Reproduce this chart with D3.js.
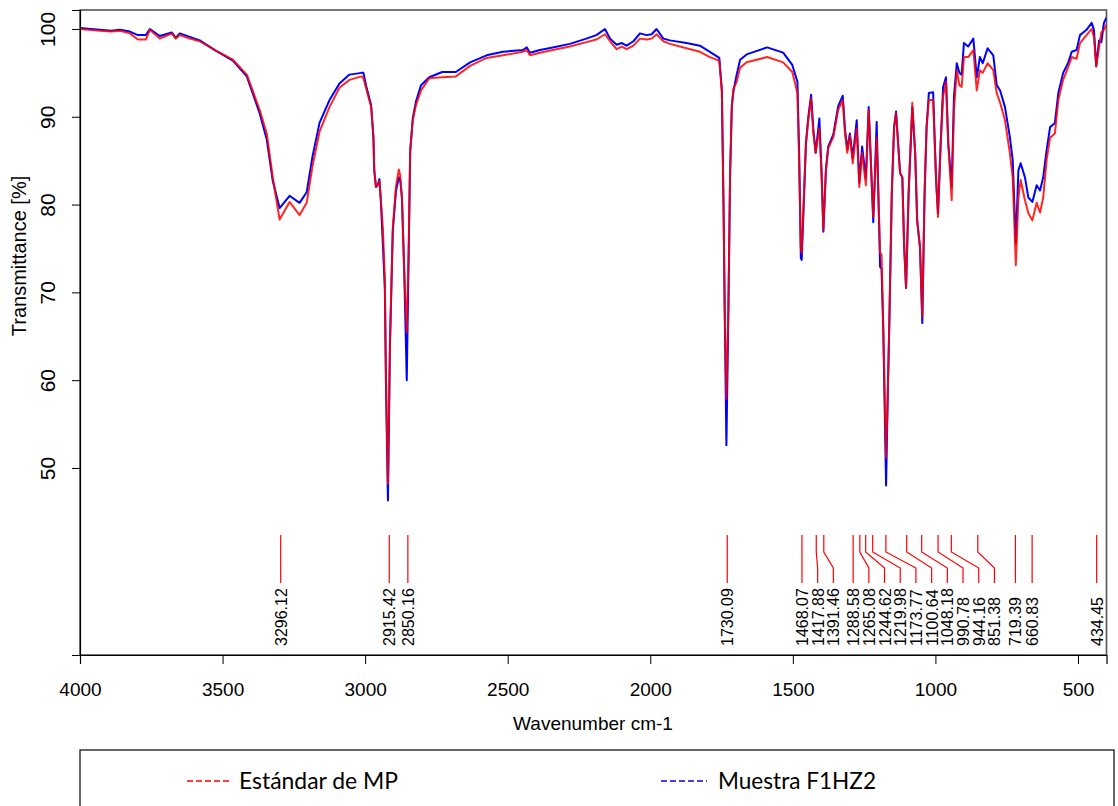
<!DOCTYPE html>
<html><head><meta charset="utf-8">
<script src="https://cdn.jsdelivr.net/npm/d3@7"></script>
<style>body{margin:0;background:#fff} svg{display:block}</style>
</head><body>
<svg id="c" width="1118" height="806"></svg>
<script>
const wavenumbers = [4000,3930,3891,3860,3825,3797,3769,3755,3720,3699,3678,3664,3650,3615,3580,3527,3464,3415,3370,3345,3324,3300,3265,3230,3205,3185,3160,3125,3090,3055,3013,3006,2997,2979,2971,2968,2962,2955,2950,2945,2938,2931,2927,2920,2913,2903,2892,2882,2877,2871,2863,2854,2847,2842,2833,2822,2804,2775,2730,2682,2632,2574,2517,2447,2433,2422,2387,2342,2282,2224,2189,2159,2141,2118,2100,2083,2059,2036,2013,1995,1978,1954,1931,1873,1826,1791,1758,1749,1743,1739,1733,1726,1720,1714,1708,1697,1685,1662,1590,1534,1502,1484,1478,1472,1469,1463,1454,1446,1436,1428,1420,1407,1399,1393,1384,1376,1358,1341,1325,1317,1309,1300,1290,1276,1267,1257,1244,1234,1218,1206,1194,1189,1183,1173,1167,1162,1153,1145,1138,1124,1116,1110,1103,1094,1081,1071,1064,1054,1046,1038,1031,1023,1008,998,991,982,973,963,955,943,935,925,916,908,900,885,867,855,844,834,817,797,785,773,756,739,729,718,709,701,686,674,660,645,633,622,610,598,581,569,552,534,522,505,493,470,452,444,436,426,418,409,400];
const estandarMP = [100.0,99.8,99.7,99.8,99.5,98.8,98.8,99.9,98.9,99.2,99.5,98.9,99.3,98.9,98.6,97.6,96.5,94.8,90.8,88.1,83.1,78.3,80.3,78.8,80.2,84.3,88.3,91.1,93.3,94.2,94.6,94.4,93.3,91.1,87.7,83.9,82.0,82.3,82.7,80.5,77.4,71.7,60.3,48.2,64.2,77.4,82.0,84.0,83.3,80.8,72.5,65.4,75.6,86.2,89.6,91.3,93.0,94.4,94.5,94.6,95.8,96.7,97.0,97.4,97.6,97.0,97.3,97.6,98.0,98.5,98.8,99.4,98.6,97.7,98.0,97.7,98.1,98.9,98.8,98.9,99.4,98.6,98.3,97.8,97.4,96.8,96.4,93.0,79.7,68.3,57.9,68.3,83.6,91.1,93.2,94.0,95.6,96.2,96.8,96.2,95.1,92.7,85.1,75.1,74.5,79.4,87.0,89.6,92.1,88.1,85.9,88.7,83.1,77.1,83.9,86.4,87.7,90.8,91.9,88.1,85.9,87.9,84.7,88.7,82.0,85.9,82.2,90.8,78.6,87.6,74.5,74.3,66.0,51.2,58.5,66.0,81.3,88.8,90.4,83.6,83.1,75.6,70.5,81.3,91.6,85.9,78.2,75.1,67.2,81.3,88.8,91.9,91.9,83.1,78.6,86.6,92.3,94.0,87.0,80.5,90.8,95.3,93.6,93.4,96.8,96.8,97.6,93.0,95.3,95.0,96.1,95.3,92.7,91.6,89.6,85.9,83.1,73.1,80.8,82.8,80.5,79.0,78.2,80.2,79.1,80.8,85.1,87.6,88.1,91.9,94.2,95.7,96.8,96.6,98.4,99.3,100.0,99.1,95.7,98.0,99.6,99.9,100.5];
const muestraF1HZ2 = [100.1,99.9,99.8,99.9,99.7,99.3,99.3,100.0,99.2,99.4,99.6,99.0,99.5,99.1,98.7,97.6,96.4,94.6,90.4,87.4,82.7,79.6,81.0,80.2,81.4,85.4,89.3,91.9,93.8,94.8,95.0,95.0,93.6,91.3,87.7,83.9,82.0,82.3,82.9,80.5,75.6,70.5,59.5,46.3,64.0,77.0,81.5,83.1,82.8,80.8,72.5,60.0,75.0,86.0,89.8,91.7,93.6,94.5,95.1,95.1,96.2,97.0,97.4,97.6,97.9,97.3,97.6,97.9,98.3,98.9,99.3,100.0,98.9,98.2,98.4,98.1,98.6,99.5,99.3,99.4,100.0,98.9,98.7,98.4,98.1,97.4,96.7,93.0,79.7,68.0,52.6,68.0,83.6,91.3,93.0,94.8,96.5,97.1,97.9,97.3,95.9,94.0,86.0,73.9,73.7,79.0,87.0,89.9,92.5,88.5,85.9,89.8,83.5,76.9,84.0,86.6,88.0,91.2,92.4,88.5,86.3,88.1,85.3,89.6,82.5,86.6,83.0,91.1,78.0,89.4,72.9,72.7,66.0,48.0,58.5,66.0,81.3,88.8,90.6,83.6,83.1,75.6,70.5,81.3,91.1,85.9,78.2,75.1,66.5,81.3,88.8,92.7,92.8,83.1,79.0,86.6,93.4,94.5,87.0,82.0,92.3,96.1,95.0,94.8,98.4,98.0,98.9,94.5,96.8,96.1,97.8,97.0,93.6,93.0,91.1,87.7,85.1,75.6,83.9,84.7,83.1,80.8,80.3,82.2,81.6,83.1,86.2,88.8,89.3,92.7,95.0,96.2,97.4,97.6,99.3,99.9,100.7,99.9,95.8,98.7,98.5,100.7,101.3];
const peakLabels = ["3296.12","2915.42","2850.16","1730.09","1468.07","1417.88","1391.46","1288.58","1265.08","1244.62","1219.98","1173.77","1100.64","1048.18","990.78","944.16","851.38","719.39","660.83","434.45"];
const xTickValues = [4000,3500,3000,2500,2000,1500,1000,500];
const yTickValues = [50,60,70,80,90,100];
const seriesNames = ["Estándar de MP","Muestra F1HZ2"];

const svg = d3.select("#c");
const x = d3.scaleLinear().domain([4000,400]).range([80,1106.5]);
const y = d3.scaleLinear().domain([28.7,102.16]).range([655,10]);
const FONT = "'Liberation Sans', Arial, sans-serif";

// frame
svg.append("rect").attr("x",80).attr("y",10).attr("width",1026.5).attr("height",645)
  .attr("fill","none").attr("stroke","#555").attr("stroke-width",1.6);

svg.append("clipPath").attr("id","clip").append("rect")
  .attr("x",80).attr("y",10).attr("width",1026.5).attr("height",645);

const line = d3.line().x((d,i)=>x(wavenumbers[i])).y(d=>y(d));
const g = svg.append("g").attr("clip-path","url(#clip)");
g.append("path").datum(muestraF1HZ2).attr("d",line).attr("fill","none")
  .attr("stroke","#0000ff").attr("stroke-width",2).attr("stroke-linejoin","round");
g.append("path").datum(estandarMP).attr("d",line).attr("fill","none")
  .attr("stroke","#ff0000").attr("stroke-width",2).attr("stroke-opacity",0.85).attr("stroke-linejoin","round");

// x axis
const xa = svg.append("g").attr("transform","translate(0,655)")
  .call(d3.axisBottom(x).tickValues(xTickValues).tickFormat(d3.format("d")).tickSize(9).tickPadding(19));
xa.select(".domain").attr("stroke","#000").attr("stroke-width",1.2);
xa.selectAll("line").attr("stroke","#000");
xa.selectAll("text").attr("font-family",FONT).attr("font-size",19).attr("fill","#000");

// y axis
const ya = svg.append("g").attr("transform","translate(80,0)")
  .call(d3.axisLeft(y).tickValues(yTickValues).tickSize(8).tickFormat(d3.format("d")));
ya.select(".domain").attr("stroke","#000").attr("stroke-width",1.2);
ya.selectAll("line").attr("stroke","#000");
ya.selectAll("text").attr("font-family",FONT).attr("font-size",21).attr("fill","#000")
  .attr("text-anchor","middle").attr("dy",0).attr("x",0)
  .attr("transform","translate(-25,0) rotate(-90)");

// axis titles
svg.append("text").attr("x",593).attr("y",730).attr("text-anchor","middle")
  .attr("font-family",FONT).attr("font-size",19).text("Wavenumber cm-1");
svg.append("text").attr("transform","translate(26,256) rotate(-90)").attr("text-anchor","middle")
  .attr("font-family",FONT).attr("font-size",20).text("Transmittance [%]");

// peak annotations
const peaks = peakLabels.map(s=>({label:s, wn:+s, px:x(+s)})).sort((a,b)=>a.px-b.px);
const GAP = 15.7;
let prev = -Infinity;
peaks.forEach(p=>{ p.lx = Math.max(p.px, prev + GAP); prev = p.lx; });
const pg = svg.append("g");
pg.selectAll("path").data(peaks).join("path")
  .attr("d",p=>`M${p.px},535 L${p.px},552 L${p.lx},568 L${p.lx},583`)
  .attr("fill","none").attr("stroke","#ff0000").attr("stroke-width",1.2);
pg.selectAll("text").data(peaks).join("text")
  .attr("transform",p=>`translate(${p.lx+6},646) rotate(-90)`)
  .attr("font-family",FONT).attr("font-size",16).attr("fill","#000")
  .text(p=>p.label);

// legend
svg.append("rect").attr("x",80).attr("y",750).attr("width",1034).attr("height",80)
  .attr("fill","none").attr("stroke","#000").attr("stroke-width",1.2);
const legendItems = [
  {name:seriesNames[0], color:"#ff0000", x1:187, x2:230, tx:239, w:159},
  {name:seriesNames[1], color:"#0000ff", x1:661, x2:707, tx:718, w:158}
];
legendItems.forEach(l=>{
  svg.append("line").attr("x1",l.x1).attr("x2",l.x2).attr("y1",781).attr("y2",781)
    .attr("stroke",l.color).attr("stroke-width",1.6).attr("stroke-dasharray","6,3");
  svg.append("text").attr("x",l.tx).attr("y",789).attr("font-family","Lato, 'Open Sans', sans-serif")
    .attr("font-size",24).attr("textLength",l.w).attr("lengthAdjust","spacingAndGlyphs").text(l.name);
});
</script>
</body></html>
